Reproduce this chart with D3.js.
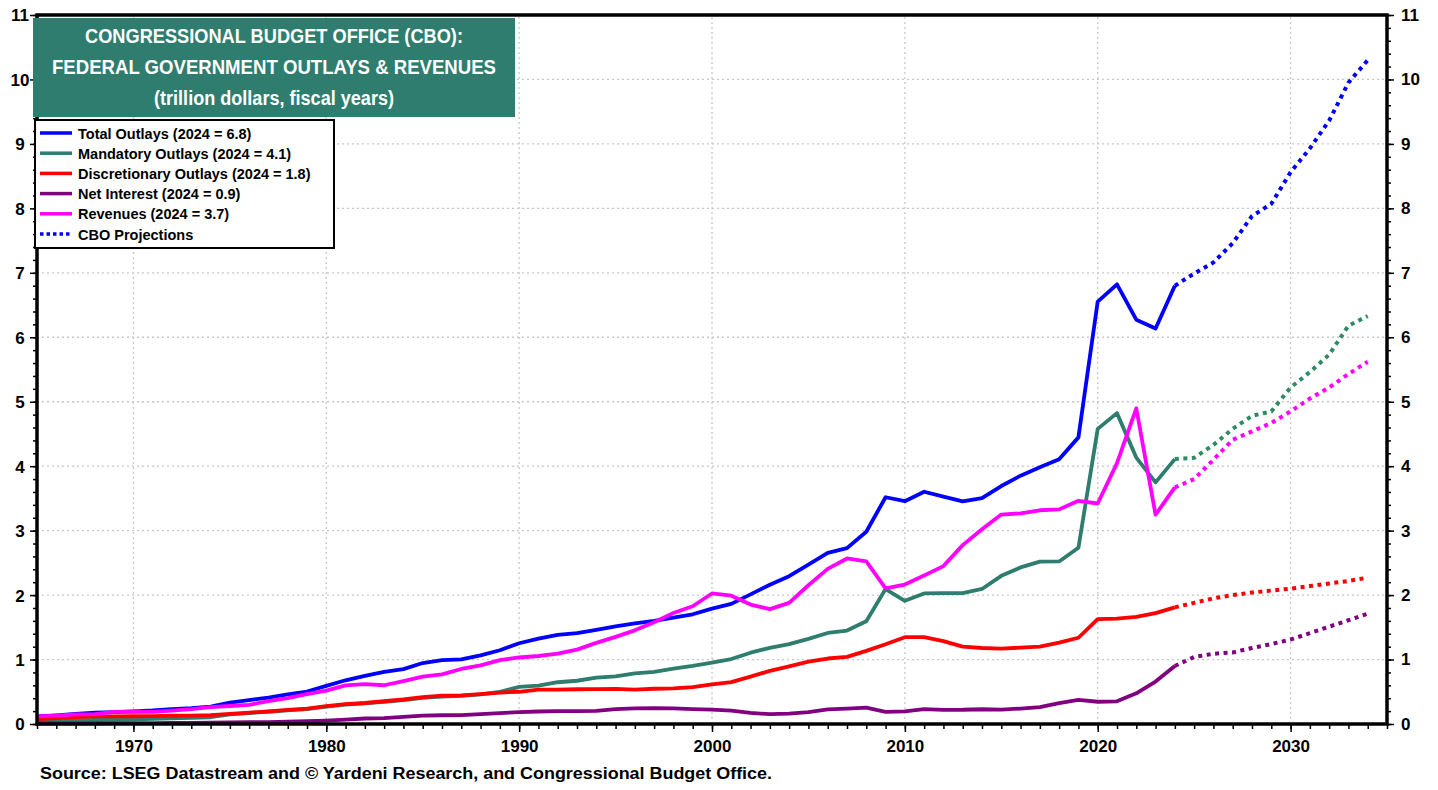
<!DOCTYPE html>
<html lang="en">
<head>
  <meta charset="UTF-8">
  <title>CBO: Federal Government Outlays & Revenues</title>
  <script src="https://d3js.org/d3.v7.min.js"></script>
  <style>
    body { margin: 0; background: #fff; font-family: "Liberation Sans", Arial, sans-serif; }
    svg text { font-family: "Liberation Sans", Arial, sans-serif; font-weight: bold; }
  </style>
</head>
<body>
<svg id="chart" width="1438" height="790"></svg>
<script>
// historical fiscal years 1965..2024
const histYears = d3.range(1965, 2025);
const totalOutlays = [0.118,0.135,0.158,0.178,0.184,0.196,0.210,0.231,0.246,0.269,0.332,0.372,0.410,0.459,0.504,0.591,0.678,0.746,0.808,0.852,0.946,0.990,1.004,1.065,1.144,1.253,1.324,1.382,1.409,1.462,1.516,1.561,1.601,1.652,1.702,1.789,1.863,2.011,2.160,2.293,2.472,2.655,2.729,2.983,3.518,3.457,3.603,3.527,3.455,3.506,3.692,3.853,3.982,4.109,4.447,6.554,6.822,6.273,6.135,6.80];
const mandatory = [0.050,0.055,0.060,0.065,0.068,0.072,0.080,0.088,0.095,0.105,0.150,0.170,0.190,0.210,0.230,0.270,0.300,0.320,0.345,0.370,0.405,0.425,0.435,0.460,0.500,0.575,0.596,0.648,0.671,0.718,0.738,0.786,0.810,0.859,0.900,0.951,1.008,1.106,1.182,1.238,1.320,1.412,1.450,1.595,2.093,1.911,2.026,2.031,2.032,2.095,2.299,2.429,2.519,2.522,2.735,4.579,4.823,4.133,3.749,4.11];
const discretionary = [0.077,0.090,0.107,0.118,0.117,0.120,0.123,0.128,0.130,0.138,0.158,0.175,0.197,0.218,0.240,0.276,0.308,0.326,0.353,0.380,0.416,0.439,0.445,0.465,0.488,0.500,0.533,0.534,0.539,0.541,0.545,0.533,0.547,0.552,0.572,0.615,0.649,0.734,0.825,0.895,0.968,1.016,1.041,1.135,1.237,1.347,1.347,1.285,1.201,1.179,1.168,1.185,1.200,1.262,1.338,1.628,1.636,1.662,1.720,1.81];
const netInterest = [0.009,0.010,0.011,0.012,0.014,0.014,0.015,0.016,0.017,0.021,0.023,0.027,0.030,0.035,0.043,0.053,0.069,0.085,0.090,0.111,0.130,0.136,0.139,0.152,0.169,0.184,0.194,0.199,0.199,0.203,0.232,0.241,0.244,0.241,0.230,0.223,0.206,0.171,0.153,0.160,0.184,0.227,0.237,0.253,0.187,0.196,0.230,0.220,0.221,0.229,0.223,0.240,0.263,0.325,0.375,0.345,0.352,0.476,0.658,0.90];
const revenues = [0.117,0.131,0.149,0.153,0.187,0.193,0.187,0.207,0.231,0.263,0.279,0.298,0.356,0.400,0.463,0.517,0.599,0.618,0.601,0.666,0.734,0.769,0.854,0.909,0.991,1.032,1.055,1.091,1.154,1.259,1.352,1.453,1.579,1.722,1.827,2.025,1.991,1.853,1.782,1.880,2.153,2.406,2.568,2.524,2.105,2.163,2.303,2.450,2.775,3.021,3.250,3.268,3.316,3.330,3.463,3.421,4.047,4.897,3.247,3.67];

// CBO projections 2024..2034
const projYears = d3.range(2024, 2035);
const totalProj = [6.80,6.99,7.16,7.46,7.88,8.07,8.56,8.93,9.36,9.95,10.30];
const mandatoryProj = [4.11,4.13,4.33,4.58,4.78,4.85,5.22,5.46,5.73,6.18,6.33];
const discretionaryProj = [1.81,1.88,1.95,2.00,2.04,2.07,2.10,2.14,2.18,2.22,2.27];
const interestProj = [0.90,1.04,1.09,1.11,1.18,1.24,1.31,1.41,1.51,1.61,1.71];
const revenuesProj = [3.67,3.80,4.10,4.41,4.54,4.67,4.85,5.05,5.22,5.43,5.62];

const seriesNames = ["Total Outlays (2024 = 6.8)","Mandatory Outlays (2024 = 4.1)","Discretionary Outlays (2024 = 1.8)","Net Interest (2024 = 0.9)","Revenues (2024 = 3.7)"];
const seriesColors = ["#0000ff","#2e7d6e","#ff0000","#800080","#ff00ff"];
const xTicks = [1970, 1980, 1990, 2000, 2010, 2020, 2030];
const yTicks = d3.range(0, 12);

const svg = d3.select("#chart");
const x = d3.scaleLinear().domain([1965, 2035]).range([37, 1387]);
const y = d3.scaleLinear().domain([0, 11]).range([724, 15]);

// gridlines
svg.append("g").selectAll("line").data(yTicks.slice(1, 11)).enter().append("line")
  .attr("x1", x(1965)).attr("x2", x(2035))
  .attr("y1", d => y(d)).attr("y2", d => y(d))
  .attr("stroke", "#c8c8c8").attr("stroke-width", 1.3).attr("stroke-dasharray", "2,3");
svg.append("g").selectAll("line").data(xTicks).enter().append("line")
  .attr("x1", d => x(d)).attr("x2", d => x(d))
  .attr("y1", y(0)).attr("y2", y(11))
  .attr("stroke", "#c8c8c8").attr("stroke-width", 1.3).attr("stroke-dasharray", "2,3");

// axes: minor + major ticks
const minorY = d3.range(0, 11.01, 0.2);
const minorX = d3.range(1965, 2036);
function styleAxis(g) {
  g.select(".domain").remove();
  g.selectAll(".tick line").attr("stroke", "#000").attr("stroke-width", 1.5);
  g.selectAll("text").attr("fill", "#000").style("font-size", "17px");
}
svg.append("g").attr("transform", `translate(${x(1965)},0)`)
  .call(d3.axisLeft(y).tickValues(minorY).tickSize(4).tickFormat("")).call(styleAxis);
svg.append("g").attr("transform", `translate(${x(1965)},0)`)
  .call(d3.axisLeft(y).tickValues(yTicks).tickSize(7).tickPadding(12).tickFormat(d3.format("d"))).call(styleAxis)
  .selectAll("text").attr("text-anchor", "middle").attr("x", -17).attr("dy", "0.35em");
svg.append("g").attr("transform", `translate(${x(2035)},0)`)
  .call(d3.axisRight(y).tickValues(minorY).tickSize(4).tickFormat("")).call(styleAxis);
svg.append("g").attr("transform", `translate(${x(2035)},0)`)
  .call(d3.axisRight(y).tickValues(yTicks).tickSize(7).tickPadding(7).tickFormat(d3.format("d"))).call(styleAxis);
svg.append("g").attr("transform", `translate(0,${y(0)})`)
  .call(d3.axisBottom(x).tickValues(minorX).tickSize(5).tickFormat("")).call(styleAxis);
svg.append("g").attr("transform", `translate(0,${y(0)})`)
  .call(d3.axisBottom(x).tickValues(xTicks).tickSize(8).tickPadding(8).tickFormat(d3.format("d"))).call(styleAxis);

// lines
const line = d3.line().x(d => x(d[0])).y(d => y(d[1]));
const hist = [totalOutlays, mandatory, discretionary, netInterest, revenues];
const proj = [totalProj, mandatoryProj, discretionaryProj, interestProj, revenuesProj];
const drawOrder = [1, 2, 3, 0, 4];
drawOrder.forEach(i => {
  svg.append("path")
    .attr("d", line(histYears.map((yr, j) => [yr, hist[i][j]])))
    .attr("fill", "none").attr("stroke", seriesColors[i]).attr("stroke-width", 3.8)
    .attr("stroke-linejoin", "round");
  svg.append("path")
    .attr("d", line(projYears.map((yr, j) => [yr, proj[i][j]])))
    .attr("fill", "none").attr("stroke", i === 1 ? "#2e8b62" : seriesColors[i]).attr("stroke-width", 4)
    .attr("stroke-dasharray", "4,4.5");
});

// frame
svg.append("rect")
  .attr("x", x(1965)).attr("y", y(11))
  .attr("width", x(2035) - x(1965)).attr("height", y(0) - y(11))
  .attr("fill", "none").attr("stroke", "#000").attr("stroke-width", 3.5);

// title box
svg.append("rect").attr("x", 33).attr("y", 18).attr("width", 482).attr("height", 99).attr("fill", "#2e7d6e");
const titleLines = ["CONGRESSIONAL BUDGET OFFICE (CBO):", "FEDERAL GOVERNMENT OUTLAYS & REVENUES", "(trillion dollars, fiscal years)"];
const titleWidths = [378, 444, 240];
svg.append("g").selectAll("text").data(titleLines).enter().append("text")
  .attr("x", 274).attr("y", (d, i) => 43 + i * 31)
  .attr("text-anchor", "middle").attr("fill", "#fff").style("font-size", "20px")
  .attr("textLength", (d, i) => titleWidths[i]).attr("lengthAdjust", "spacingAndGlyphs")
  .text(d => d);

// legend
svg.append("rect").attr("x", 35).attr("y", 120).attr("width", 299).attr("height", 128)
  .attr("fill", "#fff").attr("stroke", "#000").attr("stroke-width", 2);
const legendItems = seriesNames.map((n, i) => ({ name: n, color: seriesColors[i], dash: null }))
  .concat([{ name: "CBO Projections", color: "#0000ff", dash: "3.5,3" }]);
const lg = svg.append("g").selectAll("g").data(legendItems).enter().append("g")
  .attr("transform", (d, i) => `translate(0,${133 + i * 20.2})`);
lg.append("line").attr("x1", 40).attr("x2", 72).attr("y1", 0).attr("y2", 0)
  .attr("stroke", d => d.color).attr("stroke-width", 3.5)
  .attr("stroke-dasharray", d => d.dash);
lg.append("text").attr("x", 78).attr("y", 5.5).style("font-size", "14.5px").attr("fill", "#000")
  .text(d => d.name);

// source
svg.append("text").attr("x", 40).attr("y", 779).style("font-size", "16px").attr("fill", "#000")
  .attr("textLength", 732).attr("lengthAdjust", "spacingAndGlyphs")
  .text("Source: LSEG Datastream and \u00A9 Yardeni Research, and Congressional Budget Office.");
</script>
</body>
</html>
